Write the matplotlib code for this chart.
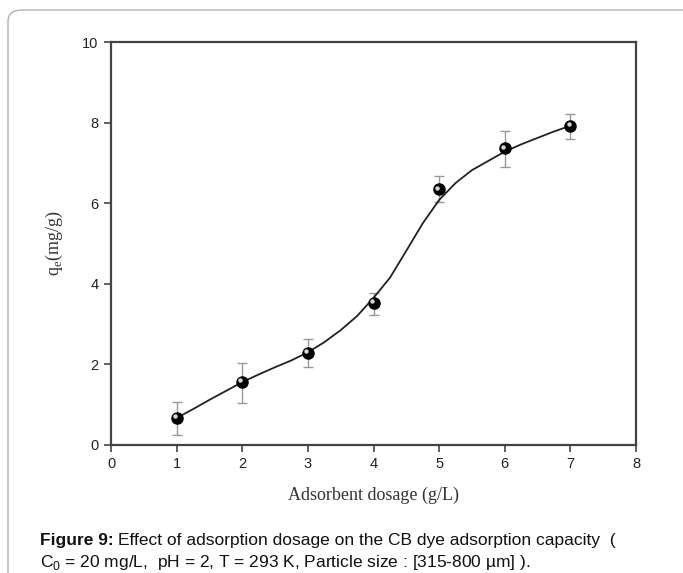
import numpy as np
import matplotlib
matplotlib.use("Agg")
import matplotlib.pyplot as plt
import matplotlib.transforms as mtransforms
from matplotlib.patches import FancyBboxPatch

# Données
dosage = [1, 2, 3, 4, 5, 6, 7]
qe = [0.67, 1.56, 2.29, 3.52, 6.34, 7.36, 7.92]
err_bas = [0.42, 0.52, 0.36, 0.30, 0.32, 0.46, 0.32]
err_haut = [0.40, 0.48, 0.33, 0.26, 0.33, 0.44, 0.29]

# Courbe d'ajustement
courbe_x = [1.0, 1.25, 1.5, 1.75, 2.0, 2.25, 2.5, 2.75, 3.0, 3.25, 3.5, 3.75,
            4.0, 4.25, 4.5, 4.75, 5.0, 5.25, 5.5, 5.75, 6.0, 6.25, 6.5, 6.75, 7.0]
courbe_y = [0.67, 0.89, 1.12, 1.34, 1.56, 1.75, 1.93, 2.10, 2.30, 2.55, 2.85, 3.20,
            3.65, 4.15, 4.82, 5.50, 6.08, 6.50, 6.82, 7.05, 7.28, 7.46, 7.62, 7.78, 7.92]

W, H = 683, 573
fig = plt.figure(figsize=(W / 100, H / 100), dpi=100)

# Cadre arrondi autour de la figure (coupé à droite et en bas)
cadre = FancyBboxPatch((8 / W, -0.2), 1.5, 1.2 - 10 / H,
                       boxstyle="round,pad=0,rounding_size=0.02",
                       transform=fig.transFigure, fill=False,
                       edgecolor="#b0b0b0", linewidth=1.0, clip_on=False)
fig.patches.append(cadre)

ax = fig.add_axes([111 / W, 1 - 445 / H, (636 - 111) / W, (445 - 42) / H])

ax.plot(courbe_x, courbe_y, color="#222222", linewidth=1.3, zorder=2)
ax.errorbar(dosage, qe, yerr=[err_bas, err_haut], fmt="none", ecolor="#999999",
            elinewidth=1.0, capsize=3.3, capthick=1.0, zorder=1)
ax.plot(dosage, qe, "o", color="black", markersize=8, zorder=3)
# petit reflet sur les billes
decal = mtransforms.ScaledTranslation(-1.3 / 72, 1.3 / 72, fig.dpi_scale_trans)
ax.plot(dosage, qe, "o", color="#d8d8d8", markersize=2.2, zorder=4,
        transform=ax.transData + decal)

ax.set_xlim(0, 8)
ax.set_ylim(0, 10)
ax.set_xticks(range(0, 9))
ax.set_yticks(range(0, 11, 2))

for s in ax.spines.values():
    s.set_color("#444444")
    s.set_linewidth(1.6)

ax.tick_params(direction="out", length=5, width=1.2, color="#444444",
               labelsize=10.5, labelcolor="#222222", pad=4)
for lab in ax.get_xticklabels() + ax.get_yticklabels():
    lab.set_family("Liberation Sans")

ax.set_xlabel("Adsorbent dosage (g/L)", family="Liberation Serif", fontsize=13,
              color="#333333", labelpad=11)
ax.set_ylabel("q$_\\mathregular{e}$(mg/g)", family="Liberation Serif", fontsize=13,
              color="#333333", labelpad=12)

# Légende de la figure
taille = 12.5
t1 = fig.text(40 / W, 1 - 540 / H, "Figure 9:", family="Liberation Sans",
              fontweight="bold", fontsize=taille, va="center", color="#111111")
fig.canvas.draw()
bb = t1.get_window_extent(renderer=fig.canvas.get_renderer())
fig.text(bb.x1 / W + 4 / W, 1 - 540 / H,
         "Effect of adsorption dosage on the CB dye adsorption capacity  (",
         family="Liberation Sans", fontsize=taille, va="center", color="#111111")
fig.text(40 / W, 1 - 562 / H,
         "C$_\\mathregular{0}$ = 20 mg/L,  pH = 2, T = 293 K, Particle size : [315-800 µm] ).",
         family="Liberation Sans", fontsize=taille, va="center", color="#111111")

fig.savefig("out.png", dpi=100)
